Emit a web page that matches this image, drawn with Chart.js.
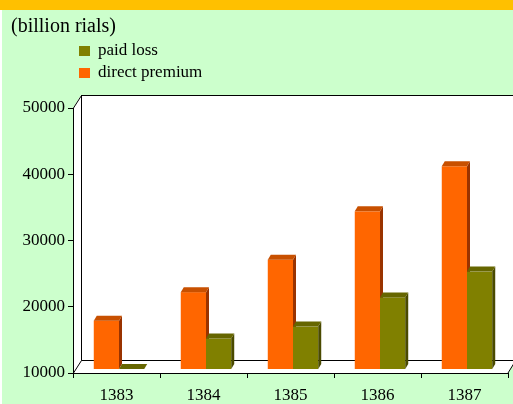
<!DOCTYPE html>
<html>
<head>
<meta charset="utf-8">
<script src="https://cdn.jsdelivr.net/npm/chart.js@4"></script>
<style>
  html, body { margin: 0; padding: 0; background: #fff; }
  canvas { display: block; }
</style>
</head>
<body>
<canvas id="chart" width="513" height="404"></canvas>
<script>
const years = ["1383", "1384", "1385", "1386", "1387"];
const directPremium = [17300, 21600, 26500, 33800, 40600];
const paidLoss = [9500, 14600, 16400, 20800, 24700];
const yTicks = [10000, 20000, 30000, 40000, 50000];

const serif = "'Liberation Serif', 'Times New Roman', serif";

// depth of the 3D box and of the bars (px)
const wallDepth = { x: 8, y: -13 };
const barFront = { x: 2.5, y: -4 };
const barDepth = { x: 3, y: -5 };

const backdrop = {
  id: "backdrop",
  beforeDraw(chart) {
    const { ctx, chartArea } = chart;
    const { left, right, top, bottom } = chartArea;
    const dx = wallDepth.x, dy = wallDepth.y;
    ctx.save();
    ctx.fillStyle = "#FFC000";
    ctx.fillRect(0, 0, chart.width, 10);
    ctx.fillStyle = "#CCFFCC";
    ctx.fillRect(2, 10, chart.width - 2, chart.height - 10);

    // walls and floor
    ctx.fillStyle = "#FFFFFF";
    ctx.beginPath();
    ctx.moveTo(left, top);
    ctx.lineTo(left + dx, top + dy);
    ctx.lineTo(right + dx, top + dy);
    ctx.lineTo(right + dx, bottom + dy);
    ctx.lineTo(right, bottom);
    ctx.lineTo(left, bottom);
    ctx.closePath();
    ctx.fill();

    ctx.strokeStyle = "#000";
    ctx.lineWidth = 1;
    ctx.beginPath();
    ctx.moveTo(left + 0.5, top);
    ctx.lineTo(left + dx + 0.5, top + dy + 0.5);
    ctx.lineTo(right + dx + 10, top + dy + 0.5);
    ctx.moveTo(left + dx + 0.5, top + dy);
    ctx.lineTo(left + dx + 0.5, bottom + dy + 0.5);
    ctx.lineTo(right + dx + 10, bottom + dy + 0.5);
    ctx.moveTo(left + 0.5, bottom);
    ctx.lineTo(left + dx + 0.5, bottom + dy + 0.5);
    ctx.moveTo(right, bottom);
    ctx.lineTo(right + dx, bottom + dy);
    ctx.stroke();

    // title
    ctx.fillStyle = "#000";
    ctx.textBaseline = "middle";
    ctx.font = "20px " + serif;
    ctx.fillText("(billion rials)", 11, 27);

    // legend, last dataset first
    ctx.font = "17px " + serif;
    const sets = chart.data.datasets.slice().reverse();
    sets.forEach((ds, i) => {
      const y = 46 + i * 22;
      ctx.fillStyle = ds.faces[0];
      ctx.fillRect(79, y, 11, 10);
      ctx.fillStyle = "#000";
      ctx.fillText(ds.label, 98, y + 5);
    });
    ctx.restore();
  },
  beforeDatasetsDraw(chart) {
    const { ctx, chartArea } = chart;
    ctx.save();
    const n = chart.data.labels.length;
    for (let i = 0; i < n; i++) {
      chart.data.datasets.forEach((ds, d) => {
        const bar = chart.getDatasetMeta(d).data[i];
        const [front, topFace, side] = ds.faces;
        const x0 = bar.x - bar.width / 2 + barFront.x;
        const x1 = bar.x + bar.width / 2 + barFront.x;
        // bars below the axis minimum sit flat on the floor
        const yb = Math.min(bar.base, chartArea.bottom) + barFront.y;
        const yt = Math.min(bar.y, chartArea.bottom) + barFront.y;
        const dx = barDepth.x, dy = barDepth.y;
        ctx.fillStyle = front;
        ctx.fillRect(x0, yt, x1 - x0, yb - yt);
        ctx.fillStyle = side;
        ctx.beginPath();
        ctx.moveTo(x1, yt);
        ctx.lineTo(x1 + dx, yt + dy);
        ctx.lineTo(x1 + dx, yb + dy);
        ctx.lineTo(x1, yb);
        ctx.closePath();
        ctx.fill();
        ctx.fillStyle = topFace;
        ctx.beginPath();
        ctx.moveTo(x0, yt);
        ctx.lineTo(x0 + dx, yt + dy);
        ctx.lineTo(x1 + dx, yt + dy);
        ctx.lineTo(x1, yt);
        ctx.closePath();
        ctx.fill();
      });
    }
    ctx.restore();
    return false;
  },
};

new Chart(document.getElementById("chart"), {
  type: "bar",
  data: {
    labels: years,
    datasets: [
      {
        label: "direct premium",
        data: directPremium,
        faces: ["#FF6600", "#C85000", "#993300"],
        backgroundColor: "#FF6600",
      },
      {
        label: "paid loss",
        data: paidLoss,
        faces: ["#808000", "#666600", "#4A4A00"],
        backgroundColor: "#808000",
      },
    ],
  },
  options: {
    responsive: false,
    animation: false,
    layout: { padding: { top: 108, right: 5, left: 0, bottom: 0 } },
    datasets: { bar: { barPercentage: 1, categoryPercentage: 0.58 } },
    plugins: {
      legend: { display: false },
      title: { display: false },
      tooltip: { enabled: false },
    },
    scales: {
      x: {
        grid: { drawOnChartArea: false, tickLength: 5, color: "#000" },
        border: { display: true, color: "#000" },
        ticks: { color: "#000", font: { family: serif, size: 17 }, padding: 7 },
        afterFit: (s) => { s.height = 31; },
      },
      y: {
        min: yTicks[0],
        max: yTicks[yTicks.length - 1],
        afterBuildTicks: (s) => { s.ticks = yTicks.map((v) => ({ value: v })); },
        grid: { drawOnChartArea: false, tickLength: 5, color: "#000" },
        border: { display: true, color: "#000" },
        ticks: {
          color: "#000",
          font: { family: serif, size: 17 },
          padding: 3,
          callback: (v) => String(v),
        },
        afterFit: (s) => { s.width = 73; },
      },
    },
  },
  plugins: [backdrop],
});
</script>
</body>
</html>
